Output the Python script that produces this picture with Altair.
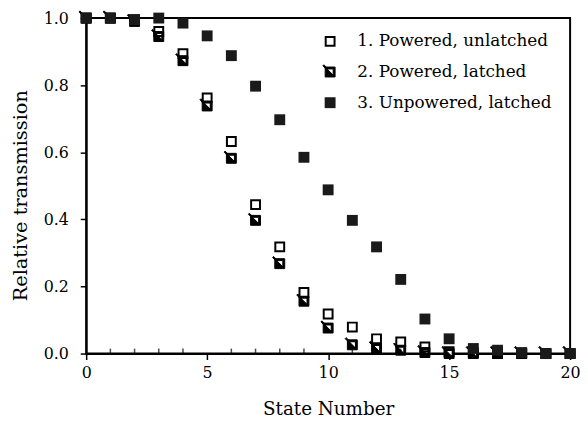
import altair as alt
import pandas as pd

state = list(range(0, 21))
s1 = [1.0, 1.0, 0.995, 0.96, 0.894, 0.762, 0.632, 0.444, 0.318, 0.182, 0.118,
      0.079, 0.044, 0.035, 0.02, 0.006, 0.003, 0.001, 0.0, 0.0, 0.0]
s2 = [1.0, 1.0, 0.99, 0.945, 0.873, 0.738, 0.582, 0.397, 0.268, 0.156, 0.076,
      0.026, 0.015, 0.01, 0.003, 0.0, 0.0, 0.0, 0.0, 0.0, 0.0]
s3 = [1.0, 1.0, 0.995, 1.0, 0.985, 0.947, 0.888, 0.797, 0.697, 0.585, 0.488,
      0.397, 0.318, 0.221, 0.103, 0.044, 0.015, 0.01, 0.003, 0.0, 0.0]
names = ["1. Powered, unlatched", "2. Powered, latched", "3. Unpowered, latched"]
x_ticks = [0, 5, 10, 15, 20]
x_minor = [i for i in range(1, 20) if i % 5 != 0]
y_ticks = [0.0, 0.1, 0.2, 0.3, 0.4, 0.5, 0.6, 0.7, 0.8, 0.9, 1.0]

rows = []
for name, vals in zip(names, [s1, s2, s3]):
    for x, v in zip(state, vals):
        rows.append({"state": x, "value": v, "series": name})
df = pd.DataFrame(rows)
minor_df = pd.DataFrame({"m": x_minor, "zero": [0.0] * len(x_minor)})

hatched = ("M-1,-1 L1,-1 L1,1 L-1,1 Z "
           "M-0.62,-0.62 L-0.62,0.62 L0.62,0.62 L0.62,-0.62 Z "
           "M-0.62,-0.62 L0.62,0.62 L-0.62,0.62 Z "
           "M-1.45,-1.25 L-1.25,-1.45 L-0.8,-1.0 L-1.0,-0.8 Z")

FONT = "DejaVu Serif"

x_scale = alt.Scale(domain=[0, 20], nice=False, zero=False)
y_scale = alt.Scale(domain=[0, 1], nice=False)

leg = alt.Legend(title=None, orient="none", legendX=238, legendY=15,
                 labelFont=FONT, labelFontSize=17, labelColor="black",
                 labelOffset=19, rowPadding=13, labelLimit=0)

points = alt.Chart(df).mark_point(filled=True, opacity=1, clip=False).encode(
    x=alt.X("state:Q", scale=x_scale,
            axis=alt.Axis(values=x_ticks, title="State Number", grid=False,
                          tickSize=6, labelPadding=5, labelFlush=False,
                          titleFontSize=18.5,
                          titleY=62, titleBaseline="alphabetic")),
    y=alt.Y("value:Q", scale=y_scale,
            axis=alt.Axis(values=y_ticks, title="Relative transmission", grid=False,
                          tickSize=6, labelPadding=12, labelFlush=False,
                          titleFontSize=19.5,
                          titleX=-60, titleY=179, titleBaseline="alphabetic",
                          labelExpr="round(datum.value*10) % 2 == 0 ? format(datum.value, '.1f') : ''")),
    shape=alt.Shape("series:N", scale=alt.Scale(domain=names, range=["square", hatched, "square"]),
                    legend=leg),
    fill=alt.Fill("series:N", scale=alt.Scale(domain=names, range=["white", "black", "#1a1a1a"]),
                  legend=leg),
    stroke=alt.Stroke("series:N", scale=alt.Scale(domain=names, range=["black", "black", "black"]),
                      legend=leg),
    strokeWidth=alt.StrokeWidth("series:N", scale=alt.Scale(domain=names, range=[2, 0, 0]),
                                legend=leg),
    size=alt.Size("series:N", scale=alt.Scale(domain=names, range=[80, 121, 121]),
                  legend=leg),
    order=alt.Order("series:N"),
)

minor = alt.Chart(minor_df).mark_tick(color="black", thickness=1.5, size=5, yOffset=-2.5, orient="vertical").encode(
    x=alt.X("m:Q", scale=x_scale),
    y=alt.Y("zero:Q", scale=y_scale),
)

chart = alt.layer(minor, points).properties(
    width=489, height=339,
    autosize=alt.AutoSizeParams(type="none"),
    padding={"left": 79, "top": 8, "right": 10, "bottom": 69},
    background="white",
).configure_view(
    stroke="black", strokeWidth=2,
).configure_axis(
    domainColor="black", domainWidth=2, tickColor="black", tickWidth=1.5,
    labelFont=FONT, labelFontSize=16, labelColor="black",
    titleFont=FONT, titleColor="black", titleFontWeight="normal",
)

chart.save("out.html", embed_options={"renderer": "svg", "actions": False})
